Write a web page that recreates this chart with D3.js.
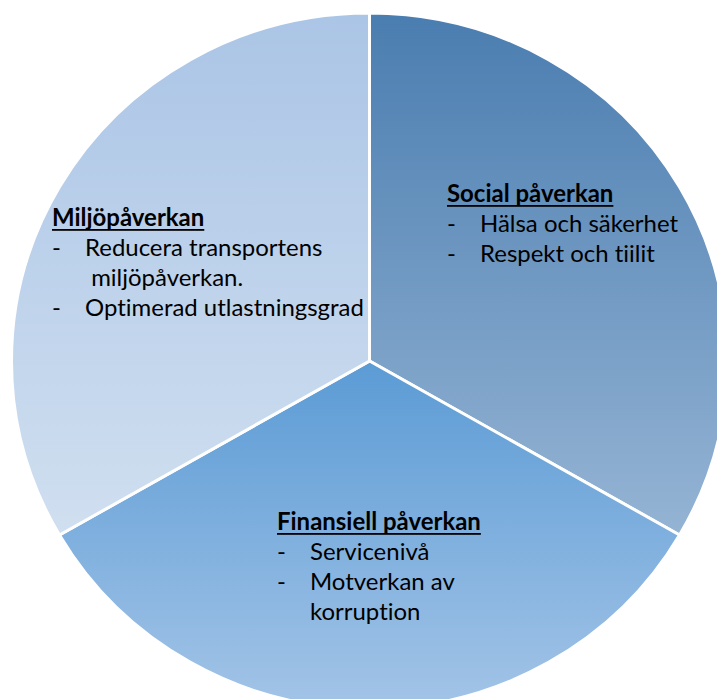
<!DOCTYPE html>
<html>
<head>
<meta charset="utf-8">
<script src="https://cdn.jsdelivr.net/npm/d3@7"></script>
<style>
  html, body { margin: 0; padding: 0; background: #fff; }
  svg { display: block; }
</style>
</head>
<body>
<div id="chart"></div>
<script>
// chart data
const categories = ['Social påverkan', 'Finansiell påverkan', 'Miljöpåverkan'];
const values = [1, 1, 1];
const socialBullets = [['Hälsa och säkerhet'], ['Respekt och tiilit']];
const finansiellBullets = [['Servicenivå'], ['Motverkan av', 'korruption']];
const miljoBullets = [['Reducera transportens', ' miljöpåverkan.'], ['Optimerad utlastningsgrad']];
const bullets = [socialBullets, finansiellBullets, miljoBullets];

// gradient colours per slice (top, bottom)
const colorsTop = ['#4a7db0', '#5b9bd5', '#abc5e6'];
const colorsBottom = ['#95b4d4', '#a3c4e7', '#d0dff0'];

const width = 717;
const height = 699;
const cx = 369.5;
const cy = 361;
const ry = 348;
const rx = 358;

// label anchor: x of title/dash, baseline of title
const labelPos = [[447, 202], [277, 530], [52, 226]];
const textIndent = 33;
const lineH = 30;

const svg = d3.select('#chart')
  .append('svg')
  .attr('width', width)
  .attr('height', height);

const defs = svg.append('defs');
categories.forEach((c, i) => {
  const g = defs.append('linearGradient')
    .attr('id', 'grad' + i)
    .attr('x1', 0).attr('y1', 0)
    .attr('x2', 0).attr('y2', 1);
  g.append('stop').attr('offset', '0%').attr('stop-color', colorsTop[i]);
  g.append('stop').attr('offset', '100%').attr('stop-color', colorsBottom[i]);
});

const pie = d3.pie().sort(null).value(d => d);
const arc = d3.arc().innerRadius(0).outerRadius(ry);

const pieG = svg.append('g')
  .attr('transform', `translate(${cx},${cy}) scale(${rx / ry},1)`);

pieG.selectAll('path')
  .data(pie(values))
  .enter()
  .append('path')
  .attr('d', arc)
  .attr('fill', (d, i) => `url(#grad${i})`)
  .attr('stroke', '#fff')
  .attr('stroke-width', 3)
  .attr('vector-effect', 'non-scaling-stroke');

// fit the font size so the longest line matches the picture
const font = 'Lato, "Open Sans", sans-serif';
const probe = svg.append('text')
  .style('font-family', font)
  .style('font-size', '20px')
  .style('font-variant-ligatures', 'none')
  .text('Optimerad utlastningsgrad');
const fontSize = 20 * 279 / probe.node().getComputedTextLength();
probe.remove();

const labels = svg.append('g')
  .style('font-family', font)
  .style('font-size', fontSize + 'px')
  .style('font-variant-ligatures', 'none')
  .attr('fill', '#000');

categories.forEach((c, i) => {
  const [x, y] = labelPos[i];
  const title = labels.append('text')
    .attr('x', x)
    .attr('y', y)
    .style('font-weight', 'bold')
    .text(c);
  const w = title.node().getComputedTextLength();
  labels.append('rect')
    .attr('x', x)
    .attr('y', y + 3)
    .attr('width', w)
    .attr('height', 1.8)
    .attr('fill', '#000');

  let line = 1;
  bullets[i].forEach(item => {
    labels.append('text')
      .attr('x', x)
      .attr('y', y + line * lineH)
      .text('-');
    item.forEach(t => {
      labels.append('text')
        .attr('x', x + textIndent)
        .attr('y', y + line * lineH)
        .style('white-space', 'pre')
        .text(t);
      line++;
    });
  });
});
</script>
</body>
</html>
